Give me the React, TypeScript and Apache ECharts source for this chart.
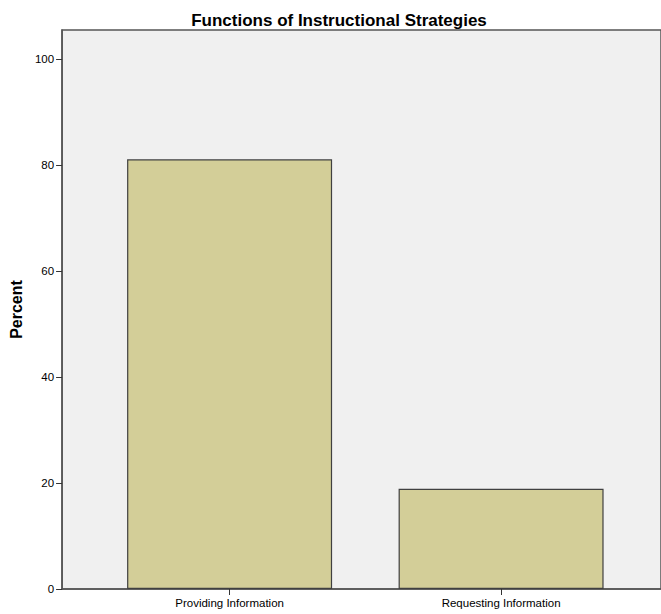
import React, { useEffect, useRef } from "react";
import * as echarts from "echarts";

const categories = ["Providing Information", "Requesting Information"];
const percents = [81.1, 18.9];
const yTicks = [0, 20, 40, 60, 80, 100];
const titleText = "Functions of Instructional Strategies";
const yName = "Percent";

const FONT = "'Liberation Sans', Arial, sans-serif";

export default function App() {
  const ref = useRef<HTMLDivElement>(null);
  useEffect(() => {
    if (!ref.current) return;
    const chart = echarts.init(ref.current, null, { renderer: "svg" });
    const xPos = categories.map((_, i) => i);
    chart.setOption({
      animation: false,
      backgroundColor: "#ffffff",
      title: {
        text: titleText,
        left: 334,
        textAlign: "center",
        top: 7,
        textStyle: { fontFamily: FONT, fontSize: 17, fontWeight: "bold", color: "#000" },
      },
      grid: {
        left: 62,
        right: 0,
        top: 30,
        bottom: 25,
        show: true,
        backgroundColor: "#F0F0F0",
        borderColor: "#555555",
        borderWidth: 1.5,
      },
      xAxis: {
        type: "value",
        min: -0.617,
        max: 1.589,
        splitLine: { show: false },
        axisLine: { show: true, onZero: false, lineStyle: { color: "#555555", width: 1.5 } },
        axisTick: {
          show: true,
          customValues: xPos,
          length: 6,
          lineStyle: { color: "#333333", width: 1 },
        },
        axisLabel: {
          customValues: xPos,
          margin: 8,
          fontFamily: FONT,
          fontSize: 11.5,
          color: "#000",
          formatter: (v: number) => categories[Math.round(v)] ?? "",
        },
      },
      yAxis: {
        type: "value",
        min: 0,
        max: 105.5,
        name: yName,
        nameLocation: "middle",
        nameGap: 38,
        nameTextStyle: { fontFamily: FONT, fontSize: 16, fontWeight: "bold", color: "#000" },
        splitLine: { show: false },
        axisLine: { show: true, onZero: false, lineStyle: { color: "#555555", width: 1.5 } },
        axisTick: {
          show: true,
          customValues: yTicks,
          length: 6,
          lineStyle: { color: "#333333", width: 1 },
        },
        axisLabel: {
          customValues: yTicks,
          margin: 8,
          fontFamily: FONT,
          fontSize: 11.5,
          color: "#000",
        },
      },
      series: [
        {
          type: "bar",
          barWidth: 205,
          data: xPos.map((x, i) => [x, percents[i]]),
          itemStyle: { color: "#D3CE98", borderColor: "#404040", borderWidth: 1.2 },
        },
      ],
    });
    return () => chart.dispose();
  }, []);
  return (
    <div
      ref={ref}
      style={{ width: 661, height: 614, position: "fixed", left: 0, top: 0 }}
    />
  );
}
